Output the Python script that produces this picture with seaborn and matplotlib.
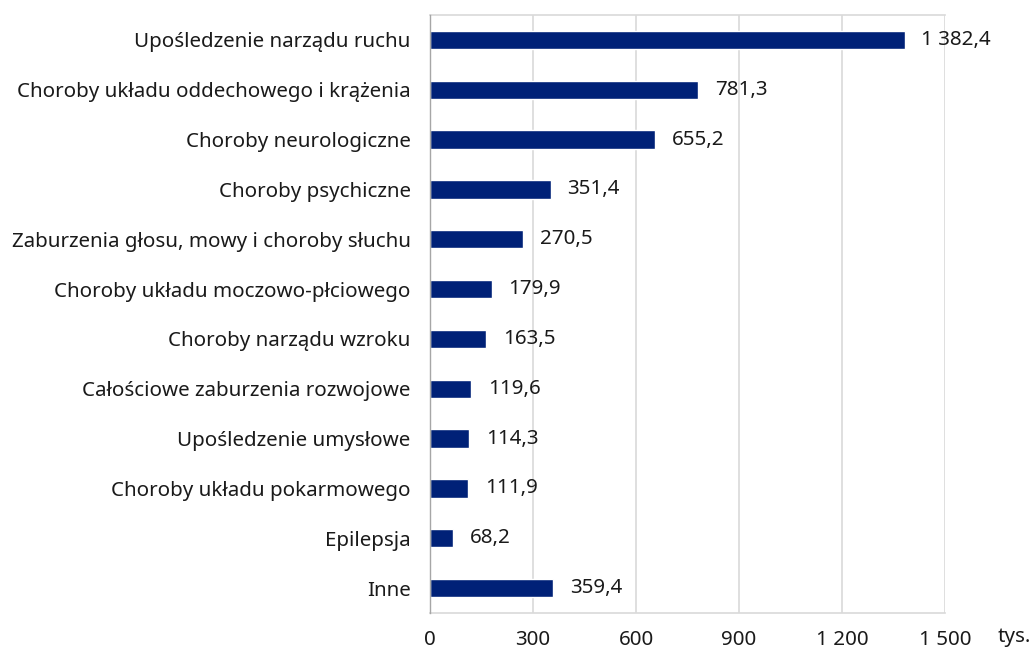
import matplotlib
matplotlib.use("Agg")
import matplotlib.pyplot as plt
import seaborn as sns
import pandas as pd
from matplotlib.ticker import FuncFormatter

categories = [
    "Upośledzenie narządu ruchu",
    "Choroby układu oddechowego i krążenia",
    "Choroby neurologiczne",
    "Choroby psychiczne",
    "Zaburzenia głosu, mowy i choroby słuchu",
    "Choroby układu moczowo-płciowego",
    "Choroby narządu wzroku",
    "Całościowe zaburzenia rozwojowe",
    "Upośledzenie umysłowe",
    "Choroby układu pokarmowego",
    "Epilepsja",
    "Inne",
]
values = [1382.4, 781.3, 655.2, 351.4, 270.5, 179.9, 163.5, 119.6, 114.3, 111.9, 68.2, 359.4]
x_ticks = [0, 300, 600, 900, 1200, 1500]
unit_label = "tys."

sns.set_theme(style="white")
plt.rcParams["font.family"] = ["Noto Sans", "DejaVu Sans"]

FS = 14.8
TXT = "#1a1a1a"

df = pd.DataFrame({"cat": categories, "val": values})

fig = plt.figure(figsize=(10.34, 6.52), dpi=100)
ax = fig.add_axes([430 / 1034, 1 - 613 / 652, (945 - 430) / 1034, (613 - 15) / 652])

sns.barplot(data=df, x="val", y="cat", orient="h", color="#002177",
            width=0.37, ax=ax, saturation=1, zorder=3)

ax.set_xlim(0, 1500)
ax.set_xticks(x_ticks)
ax.xaxis.set_major_formatter(FuncFormatter(lambda v, p: f"{v:,.0f}".replace(",", " ")))
ax.grid(axis="x", color="#d9d9d9", linewidth=1.2, zorder=0)
ax.set_xlabel("")
ax.set_ylabel("")
ax.tick_params(axis="y", length=0, pad=14, labelsize=FS, colors=TXT)
ax.tick_params(axis="x", length=0, pad=12, labelsize=FS, colors=TXT)
for s in ["top", "right", "bottom"]:
    ax.spines[s].set_color("#d9d9d9")
    ax.spines[s].set_linewidth(1.2)
ax.spines["right"].set_visible(False)
ax.spines["left"].set_color("#a6a6a6")
ax.spines["left"].set_linewidth(1.0)
ax.spines["left"].set_zorder(4)

labels = [f"{v:,.1f}".replace(",", " ").replace(".", ",") for v in values]
txts = ax.bar_label(ax.containers[0], labels=labels, padding=12, fontsize=FS, color=TXT)
for t in txts:
    t.set_va("center")

fig.text(998 / 1034, 1 - 637 / 652, unit_label, fontsize=FS, color=TXT,
         ha="left", va="center")

fig.savefig("out.png", dpi=100)
